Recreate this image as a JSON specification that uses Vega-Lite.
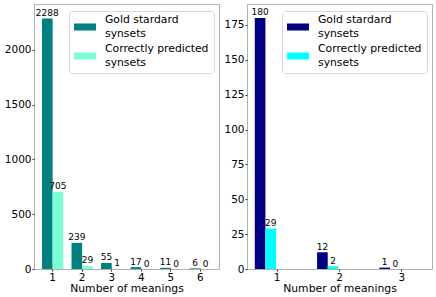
{
  "$schema": "https://vega.github.io/schema/vega-lite/v6.json",
  "padding": {"left": 3, "top": 3, "right": 5, "bottom": 0},
  "spacing": 3,
  "config": {
    "font": "DejaVu Sans",
    "view": {"stroke": "#b0b0b0", "strokeWidth": 1},
    "axis": {"domain": false, "grid": false, "tickColor": "#333", "tickSize": 2, "labelFontSize": 10.5, "labelColor": "#000", "titleFontSize": 10.8, "titleFontWeight": "normal", "titleColor": "#000", "labelFont": "DejaVu Sans", "titleFont": "DejaVu Sans"},
    "legend": {"labelFontSize": 10.8, "labelFont": "DejaVu Sans", "labelColor": "#000", "labelBaseline": "line-bottom"},
    "style": {"guide-label": {"lineHeight": 14}}
  },
  "datasets": {
    "left": [
      {"meanings": "1", "series": "Gold stardard synsets", "count": 2288},
      {"meanings": "1", "series": "Correctly predicted synsets", "count": 705},
      {"meanings": "2", "series": "Gold stardard synsets", "count": 239},
      {"meanings": "2", "series": "Correctly predicted synsets", "count": 29},
      {"meanings": "3", "series": "Gold stardard synsets", "count": 55},
      {"meanings": "3", "series": "Correctly predicted synsets", "count": 1},
      {"meanings": "4", "series": "Gold stardard synsets", "count": 17},
      {"meanings": "4", "series": "Correctly predicted synsets", "count": 0},
      {"meanings": "5", "series": "Gold stardard synsets", "count": 11},
      {"meanings": "5", "series": "Correctly predicted synsets", "count": 0},
      {"meanings": "6", "series": "Gold stardard synsets", "count": 6},
      {"meanings": "6", "series": "Correctly predicted synsets", "count": 0}
    ],
    "right": [
      {"meanings": "1", "series": "Gold stardard synsets", "count": 180},
      {"meanings": "1", "series": "Correctly predicted synsets", "count": 29},
      {"meanings": "2", "series": "Gold stardard synsets", "count": 12},
      {"meanings": "2", "series": "Correctly predicted synsets", "count": 2},
      {"meanings": "3", "series": "Gold stardard synsets", "count": 1},
      {"meanings": "3", "series": "Correctly predicted synsets", "count": 0}
    ]
  },
  "resolve": {"scale": {"color": "independent"}, "legend": {"color": "independent"}},
  "hconcat": [
    {
      "width": 185,
      "height": 265,
      "data": {"name": "left"},
      "encoding": {
        "x": {"field": "meanings", "type": "ordinal", "title": "Number of meanings", "scale": {"paddingInner": 0.28, "paddingOuter": 0.27}, "axis": {"labelAngle": 0, "labelPadding": 1, "titlePadding": 0}},
        "xOffset": {"field": "series", "type": "nominal", "sort": ["Gold stardard synsets", "Correctly predicted synsets"], "scale": {"paddingInner": 0, "paddingOuter": 0}},
        "y": {"field": "count", "type": "quantitative", "title": null, "scale": {"domain": [0, 2420], "nice": false, "zero": true}, "axis": {"values": [0, 500, 1000, 1500, 2000], "format": "d", "labelPadding": 1}}
      },
      "layer": [
        {
          "mark": {"type": "bar"},
          "encoding": {
            "color": {"field": "series", "type": "nominal", "sort": ["Gold stardard synsets", "Correctly predicted synsets"], "scale": {"domain": ["Gold stardard synsets", "Correctly predicted synsets"], "range": ["#008080", "#7fffd4"]}, "legend": {"title": null, "orient": "none", "legendX": 35, "legendY": 7, "padding": 5, "strokeColor": "#d8d8d8", "fillColor": "white", "cornerRadius": 3, "symbolType": "M-1,-0.32L1,-0.32L1,0.32L-1,0.32Z", "symbolSize": 484, "symbolStrokeWidth": 0, "labelOffset": 9, "rowPadding": 4, "labelExpr": "datum.label == 'Gold stardard synsets' ? ['Gold stardard', 'synsets'] : ['Correctly predicted', 'synsets']"}}
          }
        },
        {
          "mark": {"type": "text", "fontSize": 9, "baseline": "alphabetic", "dy": -2.5, "color": "#000"},
          "encoding": {"text": {"field": "count", "type": "quantitative", "format": "d"}}
        }
      ]
    },
    {
      "width": 185,
      "height": 265,
      "data": {"name": "right"},
      "encoding": {
        "x": {"field": "meanings", "type": "ordinal", "title": "Number of meanings", "scale": {"paddingInner": 0.28, "paddingOuter": 0.125}, "axis": {"labelAngle": 0, "labelPadding": 1, "titlePadding": 0}},
        "xOffset": {"field": "series", "type": "nominal", "sort": ["Gold stardard synsets", "Correctly predicted synsets"], "scale": {"paddingInner": 0, "paddingOuter": 0}},
        "y": {"field": "count", "type": "quantitative", "title": null, "scale": {"domain": [0, 190], "nice": false, "zero": true}, "axis": {"values": [0, 25, 50, 75, 100, 125, 150, 175], "format": "d", "labelPadding": 1}}
      },
      "layer": [
        {
          "mark": {"type": "bar"},
          "encoding": {
            "color": {"field": "series", "type": "nominal", "sort": ["Gold stardard synsets", "Correctly predicted synsets"], "scale": {"domain": ["Gold stardard synsets", "Correctly predicted synsets"], "range": ["#000080", "#00ffff"]}, "legend": {"title": null, "orient": "none", "legendX": 35, "legendY": 7, "padding": 5, "strokeColor": "#d8d8d8", "fillColor": "white", "cornerRadius": 3, "symbolType": "M-1,-0.32L1,-0.32L1,0.32L-1,0.32Z", "symbolSize": 484, "symbolStrokeWidth": 0, "labelOffset": 9, "rowPadding": 4, "labelExpr": "datum.label == 'Gold stardard synsets' ? ['Gold stardard', 'synsets'] : ['Correctly predicted', 'synsets']"}}
          }
        },
        {
          "mark": {"type": "text", "fontSize": 9, "baseline": "alphabetic", "dy": -2.5, "color": "#000"},
          "encoding": {"text": {"field": "count", "type": "quantitative", "format": "d"}}
        }
      ]
    }
  ]
}
